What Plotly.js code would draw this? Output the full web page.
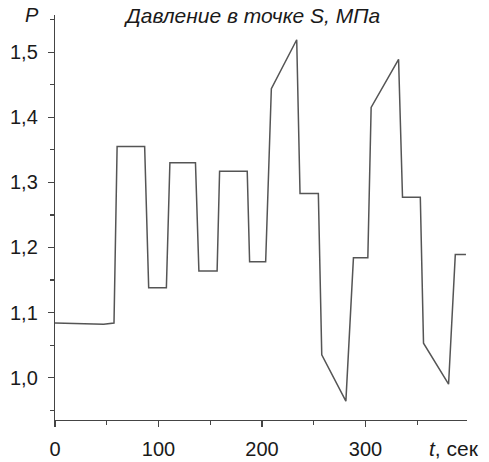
<!DOCTYPE html>
<html>
<head>
<meta charset="utf-8">
<script src="https://cdn.plot.ly/plotly-3.0.1.min.js"></script>
<style>html,body{margin:0;padding:0;background:#fff;}#chart{width:489px;height:462px;}</style>
</head>
<body>
<div id="chart"></div>
<script>
const timeSec = [0, 27, 47, 57, 60, 86.6, 90.5, 107.6, 111, 135.7, 139, 156.6, 159, 185.7, 188, 203.5, 209, 233.5, 236.7, 254.4, 257.7, 281, 288.3, 302.2, 305.4, 331.9, 335.7, 352.9, 356, 380.2, 386.7, 397];
const pressure = [1.084, 1.083, 1.082, 1.084, 1.355, 1.355, 1.138, 1.138, 1.330, 1.330, 1.164, 1.164, 1.317, 1.317, 1.178, 1.178, 1.444, 1.519, 1.283, 1.283, 1.035, 0.964, 1.184, 1.184, 1.415, 1.489, 1.277, 1.277, 1.053, 0.990, 1.189, 1.189];
const xTicks = [0, 100, 200, 300];
const yTicks = [1.0, 1.1, 1.2, 1.3, 1.4, 1.5];
const titleText = "Давление в точке S, МПа";
const yLabel = "P";
const xLabel = "<i>t</i>, сек";

const font = {family: "Liberation Sans, Arial, sans-serif", size: 20, color: "#1a1a1a"};
const bigFont = {family: "Liberation Sans, Arial, sans-serif", size: 21, color: "#1a1a1a"};

Plotly.newPlot("chart", [{
  x: timeSec, y: pressure, type: "scatter", mode: "lines",
  line: {color: "#555", width: 1.5}, hoverinfo: "skip"
}], {
  width: 489, height: 462,
  margin: {l: 55, r: 22, t: 15, b: 42},
  paper_bgcolor: "#fff", plot_bgcolor: "#fff",
  separators: ", ",
  showlegend: false,
  font: font,
  xaxis: {
    range: [0, 398], showgrid: false, zeroline: false,
    showline: true, linecolor: "#444", linewidth: 1.2,
    ticks: "outside", ticklen: 6, tickcolor: "#444", tickwidth: 1.2,
    tickvals: xTicks, ticktext: xTicks.map(String),
    minor: {dtick: 50, tick0: 0, ticks: "outside", ticklen: 4, tickcolor: "#444", showgrid: false},
    ticklabelstandoff: 5, automargin: false, tickfont: font
  },
  yaxis: {
    range: [0.935, 1.557], showgrid: false, zeroline: false,
    showline: true, linecolor: "#444", linewidth: 1.2,
    ticks: "outside", ticklen: 6, tickcolor: "#444", tickwidth: 1.2,
    tickvals: yTicks, tickformat: ".1f",
    minor: {dtick: 0.05, tick0: 0, ticks: "outside", ticklen: 4, tickcolor: "#444", showgrid: false},
    ticklabelstandoff: 6, automargin: false, tickfont: font
  },
  annotations: [
    {text: "<i>" + titleText + "</i>", xref: "paper", yref: "paper", x: 0.478, y: 1.0, xanchor: "center", yanchor: "middle", showarrow: false, font: bigFont},
    {text: "<i>" + yLabel + "</i>", xref: "paper", yref: "paper", x: -0.056, y: 1.0, xanchor: "center", yanchor: "middle", showarrow: false, font: font},
    {text: xLabel, xref: "paper", yref: "paper", x: 1.035, y: -0.07, xanchor: "right", yanchor: "middle", showarrow: false, font: bigFont}
  ]
}, {staticPlot: true, displayModeBar: false});
</script>
</body>
</html>
